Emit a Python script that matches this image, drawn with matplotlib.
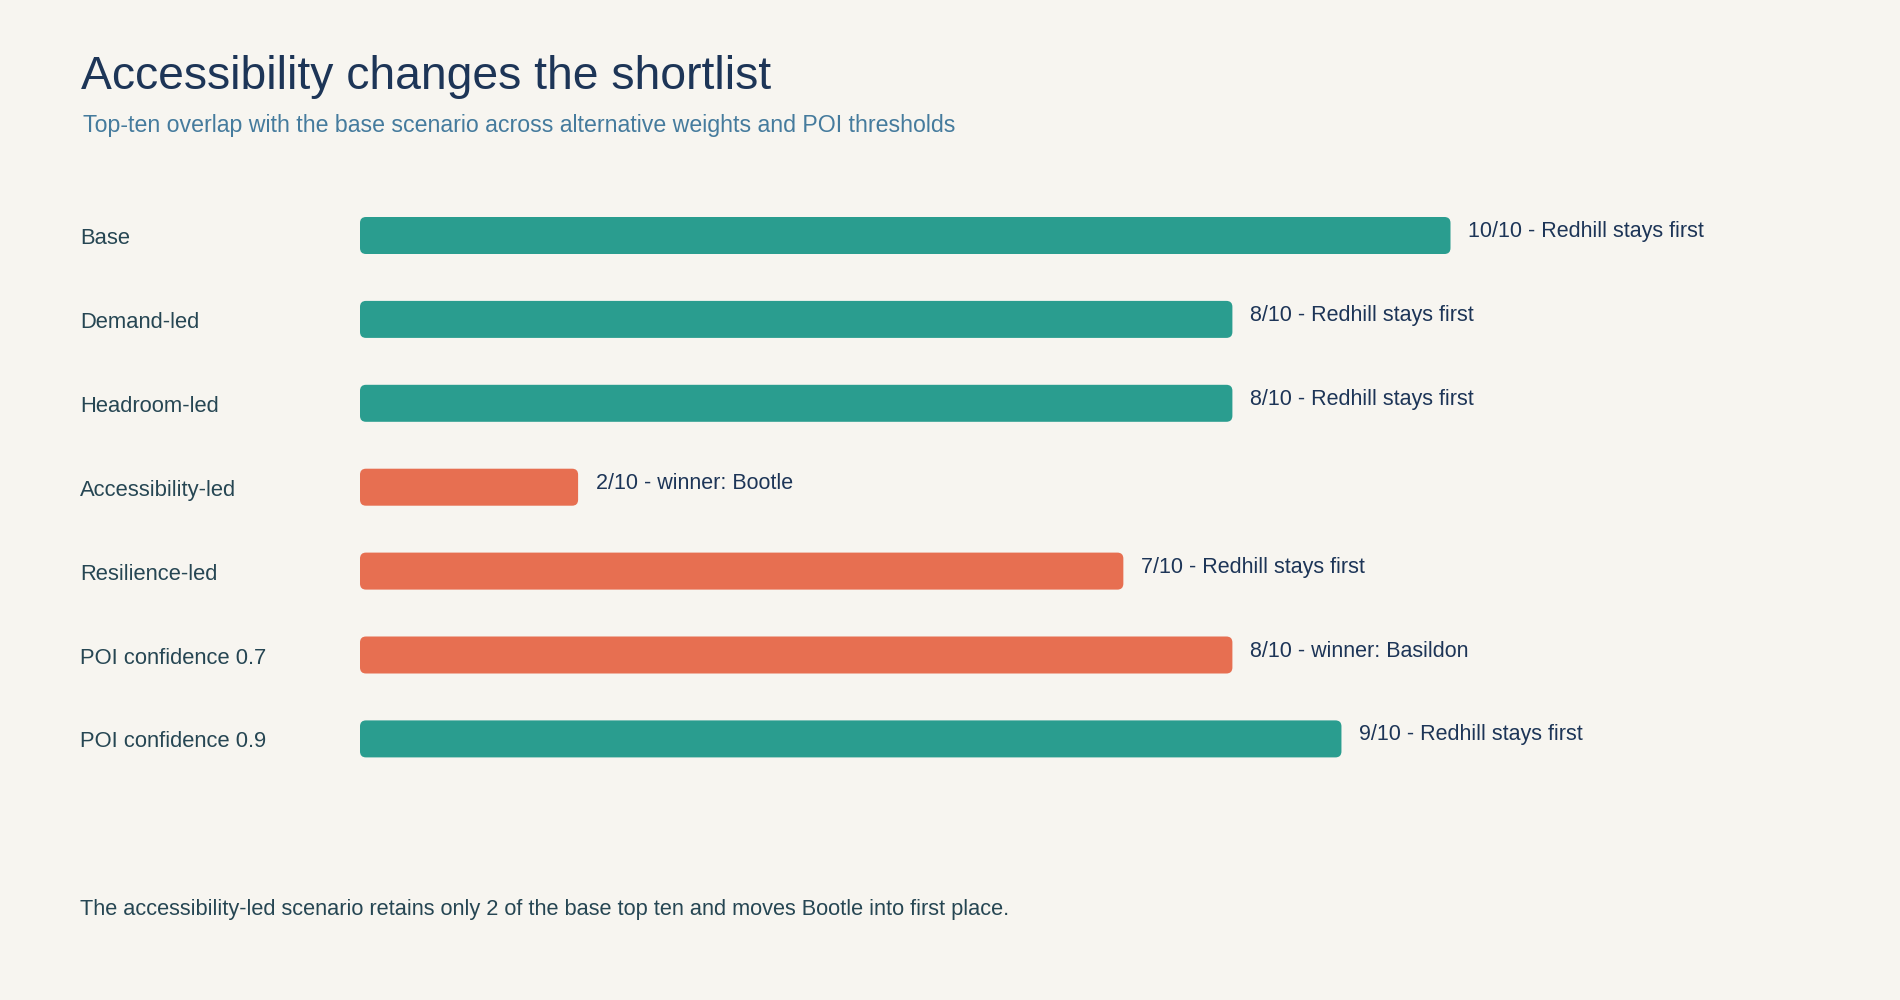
import matplotlib
matplotlib.use('Agg')
import matplotlib.pyplot as plt
from matplotlib.patches import FancyBboxPatch
from matplotlib import transforms

scenarios = ['Base', 'Demand-led', 'Headroom-led', 'Accessibility-led',
             'Resilience-led', 'POI confidence 0.7', 'POI confidence 0.9']
overlap = [10, 8, 8, 2, 7, 8, 9]
notes = ['Redhill stays first', 'Redhill stays first', 'Redhill stays first',
         'winner: Bootle', 'Redhill stays first', 'winner: Basildon',
         'Redhill stays first']
shifted = [False, False, False, True, True, True, False]
top_n = 10

BG = '#f7f5f0'
TEAL = '#2a9d8f'
ORANGE = '#e76f51'
NAVY = '#1d3557'
SLATE = '#264653'

plt.rcParams['font.family'] = ['Liberation Sans', 'DejaVu Sans']

W, H = 1900, 1000
fig = plt.figure(figsize=(W / 100, H / 100), dpi=100, facecolor=BG)

# axes placed in pixels: x 0 -> 360px, 10 -> 1450px; rows ~84px apart
row_px = 83.9
x0_px, unit_px = 360, 109.05
top_px = 235.5 - row_px / 2
ax = fig.add_axes([x0_px / W, 1 - (top_px + row_px * len(scenarios)) / H,
                   unit_px * top_n / W, row_px * len(scenarios) / H])
ax.set_xlim(0, top_n)
ax.set_ylim(len(scenarios) - 0.5, -0.5)
ax.axis('off')
ax.set_facecolor(BG)

bar_h = 37 / row_px
r = 6 / unit_px
aspect = unit_px / row_px

label_tr = transforms.offset_copy(
    transforms.blended_transform_factory(fig.transFigure, ax.transData),
    fig=fig, y=-8.5, units='dots')
value_tr = transforms.offset_copy(ax.transData, fig=fig, x=18, y=-1.5,
                                  units='dots')

for i, (name, v, note, s) in enumerate(zip(scenarios, overlap, notes, shifted)):
    box = FancyBboxPatch((0, i - bar_h / 2), v, bar_h,
                         boxstyle=f'round,pad=0,rounding_size={r}',
                         mutation_aspect=aspect,
                         facecolor=ORANGE if s else TEAL, edgecolor='none')
    ax.add_patch(box)
    ax.text(80 / W, i, name, transform=label_tr, ha='left', va='baseline',
            fontsize=15.8, color=SLATE)
    ax.text(v, i, f'{v}/{top_n} - {note}', transform=value_tr, ha='left',
            va='baseline', fontsize=15.5, color=NAVY, clip_on=False)

fig.text(81 / W, 1 - 89.3 / H, 'Accessibility changes the shortlist',
         fontsize=33.3, color=NAVY, ha='left', va='baseline')
fig.text(83 / W, 1 - 132.3 / H,
         'Top-ten overlap with the base scenario across alternative weights and POI thresholds',
         fontsize=16.7, color='#457b9d', ha='left', va='baseline')
fig.text(80 / W, 1 - 915 / H,
         'The accessibility-led scenario retains only 2 of the base top ten and moves Bootle into first place.',
         fontsize=15.7, color=SLATE, ha='left', va='baseline')

fig.savefig('out.png', dpi=100, facecolor=BG)
